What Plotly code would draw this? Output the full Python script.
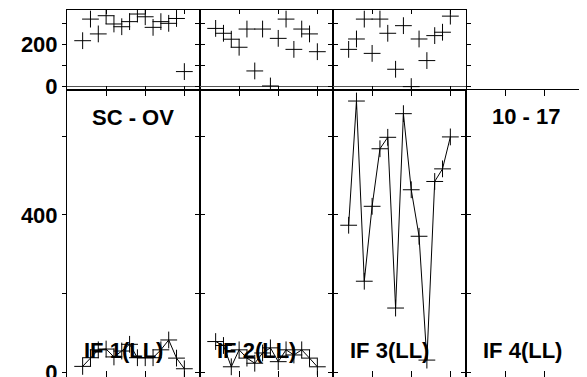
import plotly.graph_objects as go

x_pts = [2, 3, 4, 5, 6, 7, 8, 9, 10, 11, 12, 13, 14, 15]

top1 = [217, 319, 249, 335, 296, 283, 307, 343, 330, 280, 307, 299, 322, 71]
top2 = [275, 252, 224, 186, 272, 74, 272, 3, 228, 319, 176, 272, 249, 165]
top3 = [176, 225, 319, 157, 319, 252, 82, 288, 0, 225, 123, 241, 257, 333]

main1 = [16, 38, 58, 60, 40, 55, 72, 38, 38, 38, 58, 83, 37, 10]
main2 = [79, 69, 15, 58, 37, 24, 50, 63, 28, 58, 45, 58, 37, 15]
main3 = [374, 689, 232, 422, 568, 597, 164, 657, 464, 346, 32, 485, 517, 598]

top_ticks = [0, 100, 200, 300]
top_ticktext = ["0", "", "200", ""]
main_ticks = [0, 200, 400, 600]
main_ticktext = ["0", "", "400", ""]

panel_labels = ["IF 1(LL)", "IF 2(LL)", "IF 3(LL)", "IF 4(LL)"]
top_left_label = "SC - OV"
top_right_label = "10 - 17"

# page has an 8px body margin; figure is sized to fill the rest of the window
PAGE_W, PAGE_H, OFF = 587, 377, 8
W, H = PAGE_W - OFF, PAGE_H - OFF
L, T = 67 - OFF, 10 - OFF
COLW = 133
pxu = COLW / 17.0  # px per x unit
PW = W - L
col_left = [k * COLW for k in range(4)]
col_dom = []
for k in range(4):
    a = col_left[k] / PW
    b = min((col_left[k] + COLW) / PW, 1.0)
    col_dom.append([a, b])
x_ranges = [[0, 17], [0, 17], [0, 17], [0, (PW - col_left[3]) / pxu]]

split = (PAGE_H - 90) / (H - T)

fig = go.Figure()
font_b = dict(family="Liberation Sans, Arial", size=22, color="black")
font_tick = dict(family="Liberation Sans, Arial", size=22, color="black", weight="bold")

tops = [top1, top2, top3, None]
mains = [main1, main2, main3, None]

for k in range(4):
    it = k + 1      # top row axis index
    im = k + 5      # main row axis index
    if tops[k] is not None:
        fig.add_trace(go.Scatter(x=x_pts, y=tops[k], mode="markers",
                                 marker=dict(symbol="cross-thin", size=12,
                                             line=dict(color="black", width=1)),
                                 xaxis=f"x{it}", yaxis=f"y{it}", showlegend=False))
    if mains[k] is not None:
        fig.add_trace(go.Scatter(x=x_pts, y=mains[k], mode="lines+markers",
                                 line=dict(color="black", width=1),
                                 marker=dict(symbol="cross-thin", size=12,
                                             line=dict(color="black", width=1)),
                                 xaxis=f"x{im}", yaxis=f"y{im}", showlegend=False))
    mirror = "ticks" if k < 3 else False
    common_x = dict(domain=col_dom[k], range=x_ranges[k], showgrid=False,
                    zeroline=False, showticklabels=False, showline=True,
                    linecolor="black", linewidth=1, mirror="ticks",
                    ticks="inside", tickcolor="black", tickwidth=1,
                    tickvals=[5, 10, 15], automargin=False)
    fig.update_layout({
        f"xaxis{it}": dict(common_x, anchor=f"y{it}", ticklen=4),
        f"xaxis{im}": dict(common_x, anchor=f"y{im}", ticklen=6),
    })
    common_y = dict(showgrid=False, showline=True, linecolor="black", linewidth=1,
                    mirror=mirror, ticks="outside", ticklen=4, tickcolor="black",
                    tickwidth=1, showticklabels=(k == 0), tickfont=font_tick,
                    automargin=False, ticklabeloverflow="allow")
    fig.update_layout({
        f"yaxis{it}": dict(common_y, anchor=f"x{it}", domain=[split, 1],
                           range=[-16, 362], tickvals=top_ticks,
                           ticktext=top_ticktext, zeroline=True,
                           zerolinecolor="#555555", zerolinewidth=1),
        f"yaxis{im}": dict(common_y, anchor=f"x{im}", domain=[0, split],
                           range=[-10.9, 717], tickvals=main_ticks,
                           ticktext=main_ticktext, zeroline=False),
    })
    fig.add_annotation(x=1.9, y=56, xref=f"x{im}", yref=f"y{im}",
                       text=f"<b>{panel_labels[k]}</b>", showarrow=False,
                       xanchor="left", yanchor="middle", font=font_b)

fig.add_annotation(x=8.4, y=648, xref="x5", yref="y5",
                   text=f"<b>{top_left_label}</b>", showarrow=False,
                   xanchor="center", yanchor="middle", font=font_b)
fig.add_annotation(x=7.75, y=650, xref="x8", yref="y8",
                   text=f"<b>{top_right_label}</b>", showarrow=False,
                   xanchor="center", yanchor="middle", font=font_b)

fig.update_layout(width=W, height=H, margin=dict(l=L, r=0, t=T, b=0),
                  paper_bgcolor="white", plot_bgcolor="white")

fig.write_html("out.html")
